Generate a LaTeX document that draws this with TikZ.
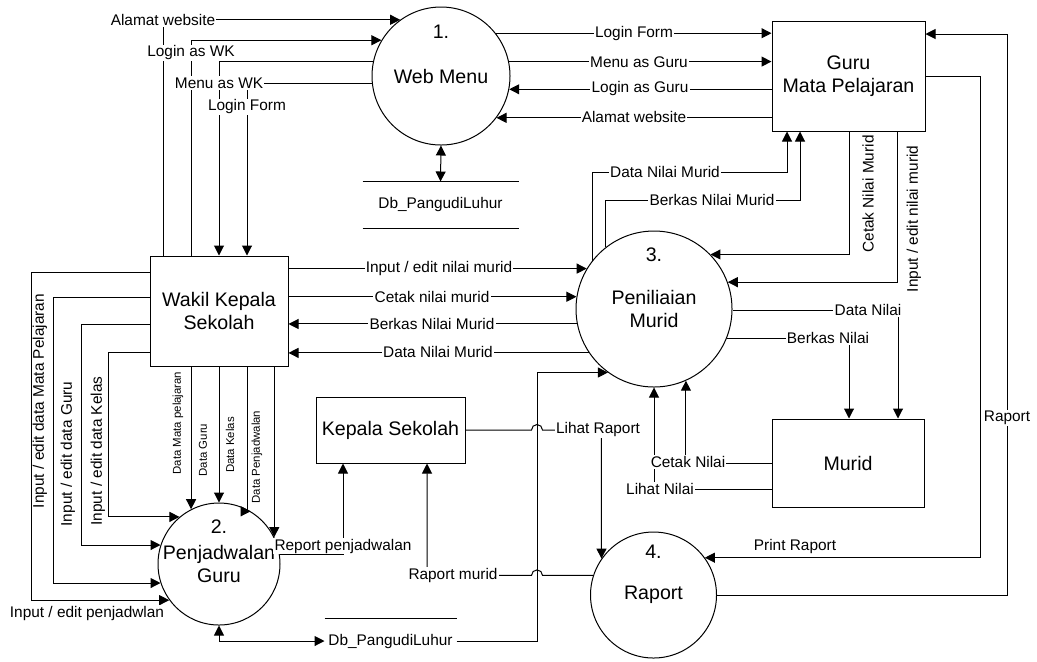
\documentclass[tikz,border=0pt]{standalone}
\usepackage{fontspec}
\setmainfont{Liberation Sans}
\usetikzlibrary{arrows.meta}

\tikzset{
  proc/.style={circle, draw, minimum size=#1, inner sep=0pt, align=center, font=\fontsize{9.8}{11.5}\selectfont},
  ent/.style 2 args={rectangle, draw, minimum width=#1, minimum height=#2, inner sep=0pt, align=center, font=\fontsize{9.8}{11.5}\selectfont},
  num/.style={inner sep=0.5pt, font=\fontsize{9.8}{11.5}\selectfont},
  store/.style={minimum width=#1, minimum height=23pt, inner sep=0pt, font=\fontsize{7.7}{9}\selectfont},
  lbl/.style={fill=white, inner sep=0.6pt, font=\fontsize{7.7}{9}\selectfont},
  vlbl/.style={lbl, rotate=90},
  tinylbl/.style={inner sep=0.5pt, rotate=90, font=\fontsize{5.7}{7}\selectfont},
  flow/.style={-{Triangle[length=5pt,width=5pt]}},
  both/.style={{Triangle[length=5pt,width=5pt]}-{Triangle[length=5pt,width=5pt]}},
}

\begin{document}
\begin{tikzpicture}[x=0.5pt, y=-0.5pt, line width=0.5pt]
        \useasboundingbox (0,0) rectangle (1037,661);

        % processes
        \node[proc=69pt] (p1) at (441,76) {Web Menu};
        \node[num] (n1) at (441,32) {1.};
        \node[proc=78pt] (p3) at (654,309) {Peniliaian\\Murid};
        \node[num] (n3) at (654,255) {3.};
        \node[proc=61pt] (p2) at (219,564) {Penjadwalan\\Guru};
        \node[num] (n2) at (219,527) {2.};
        \node[proc=63pt] (p4) at (653.5,595) {Raport};
        \node[num] (n4) at (653.5,552) {4.};

        % entities
        \node[ent={76.5pt}{55pt}] (guru) at (848.5,76) {Guru\\Mata Pelajaran};
        \node[ent={69pt}{55pt}] (wk) at (219,311) {Wakil Kepala\\Sekolah};
        \node[ent={74.5pt}{33pt}] (kepala) at (390.5,430) {Kepala Sekolah};
        \node[ent={76pt}{44pt}] (murid) at (848,463) {Murid};

        % data stores
        \node[store=77.5pt] (db1) at (440.5,205) {Db\_PangudiLuhur};
        \draw (db1.north west) -- (db1.north east) (db1.south west) -- (db1.south east);
        \node[store=65.5pt, minimum height=22pt] (db2) at (390.5,641) {Db\_PangudiLuhur};
        \draw (db2.north west) -- (db2.north east);

        % web menu
        \draw[flow] (wk.north -| 163,0) |- (p1.126);
        \draw[flow] (wk.north -| 191,0) |- (p1.149);
        \draw[flow] (p1.168) -| (wk.north -| 219,0);
        \draw[flow] (p1.186) -| (wk.north -| 247,0);
        \draw[flow] (p1.38) -- (p1.38 -| guru.west);
        \draw[flow] (p1.12) -- (p1.12 -| guru.west);
        \draw[flow] (p1.349 -| guru.west) -- (p1.349);
        \draw[flow] (p1.323 -| guru.west) -- (p1.323);
        \draw[both] (p1.270) -- (db1.north);

        % wakil kepala sekolah
        \draw[flow] (wk.east |- p3.149) -- (p3.149);
        \draw[flow] (wk.east |- p3.171) -- (p3.171);
        \draw[flow] (p3.191) -- (p3.191 -| wk.east);
        \draw[flow] (p3.214) -- (p3.214 -| wk.east);
        \draw[flow] (wk.west |- 0,272) -| (p2.216 -| 31,0) -- (p2.216);
        \draw[flow] (wk.west |- 0,297) -| (p2.198 -| 53,0) -- (p2.198);
        \draw[flow] (wk.west |- 0,324) -| (p2.162 -| 81,0) -- (p2.162);
        \draw[flow] (wk.west |- 0,352) -| (p2.130 -| 108,0) -- (p2.130);
        \draw[flow] (wk.south -| p2.117) -- (p2.117);
        \draw[flow] (wk.south -| p2.90) -- (p2.90);
        \draw[flow] (wk.south -| 247,0) |- (p2.59);
        \draw[flow] (wk.south -| p2.26) -- (p2.26);

        % penjadwalan
        \draw[flow] (p2.9) -| (kepala.south -| 343,0);
        \draw[both] (p2.270) |- (db2.west);
        \draw[flow] (db2.east) -| (p3.234 -| 537,0) -- (p3.234);

        % kepala sekolah and raport
        \draw[flow] (kepala.east) -- (kepala.east -| 531.5,0) arc[start angle=180, end angle=0, radius=2.75pt] -| (p4.145);
        \draw[flow] (p4.162) -- (p4.162 -| 542.5,0) arc[start angle=0, end angle=180, radius=2.75pt] -| (kepala.south -| 427,0);

        % guru mata pelajaran
        \draw[flow] (guru.south -| 849,0) |- (p3.44);
        \draw[flow] (guru.south -| 897,0) |- (p3.20);
        \draw[flow] (p3.142) |- (787,172) -- (guru.south -| 787,0);
        \draw[flow] (p3.128) |- (800,200) -- (guru.south -| 800,0);
        \draw[flow] (p4.0) -| (1007,34) -- (guru.east |- 0,34);
        \draw[flow] (guru.east) -| (p4.36 -| 980,0) -- (p4.36);

        % murid
        \draw[flow] (p3.359) -| (murid.north -| 898,0);
        \draw[flow] (p3.338) -| (murid.north -| 849,0);
        \draw[flow] (murid.west) -| (p3.294);
        \draw[flow] (murid.west |- 0,489) -| (p3.270);

        % labels
        \node[lbl] (tAlamatWK) at (163,20) {Alamat website};
        \node[lbl] (tLoginWK) at (191,53) {Login as WK};
        \node[lbl] (tMenuWK) at (219,83) {Menu as WK};
        \node[lbl] (tFormWK) at (247,107) {Login Form};
        \node[lbl] (tFormGuru) at (634,34) {Login Form};
        \node[lbl] (tMenuGuru) at (639,62) {Menu as Guru};
        \node[lbl] (tLoginGuru) at (640,89) {Login as Guru};
        \node[lbl] (tAlamatGuru) at (634,117) {Alamat website};
        \node[lbl] (tInputWK) at (439,269) {Input / edit nilai murid};
        \node[lbl] (tCetakWK) at (432,297) {Cetak nilai murid};
        \node[lbl] (tBerkasWK) at (432,324) {Berkas Nilai Murid};
        \node[lbl] (tDataWK) at (438,352) {Data Nilai Murid};
        \node[lbl] (tDataGuru) at (665,172) {Data Nilai Murid};
        \node[lbl] (tBerkasGuru) at (712,200) {Berkas Nilai Murid};
        \node[vlbl] (tCetakGuru) at (868,194) {Cetak Nilai Murid};
        \node[vlbl] (tInputGuru) at (914,219) {Input / edit nilai murid};
        \node[lbl] (tDataMurid) at (868,310) {Data Nilai};
        \node[lbl] (tBerkasMurid) at (828,338) {Berkas Nilai};
        \node[lbl] (tCetakMurid) at (688,462) {Cetak Nilai};
        \node[lbl] (tLihatMurid) at (660,489) {Lihat Nilai};
        \node[lbl] (tRaport) at (1007,418) {Raport};
        \node[lbl] (tPrint) at (795,546) {Print Raport};
        \node[lbl] (tLihatRaport) at (598,430) {Lihat Raport};
        \node[lbl] (tRaportMurid) at (453,575) {Raport murid};
        \node[lbl] (tReport) at (343,546) {Report penjadwalan};
        \node[vlbl] (tMapel) at (40,401) {Input / edit data Mata Pelajaran};
        \node[vlbl] (tGuru) at (68,454) {Input / edit data Guru};
        \node[vlbl] (tKelas) at (98,451) {Input / edit data Kelas};
        \node[lbl] (tJadwal) at (87,613) {Input / edit penjadwlan};
        \node[tinylbl] (dMapel) at (178,423) {Data Mata pelajaran};
        \node[tinylbl] (dGuru) at (203,450) {Data Guru};
        \node[tinylbl] (dKelas) at (230,445) {Data Kelas};
        \node[tinylbl] (dJadwal) at (257,457) {Data Penjadwalan};
\end{tikzpicture}
\end{document}
